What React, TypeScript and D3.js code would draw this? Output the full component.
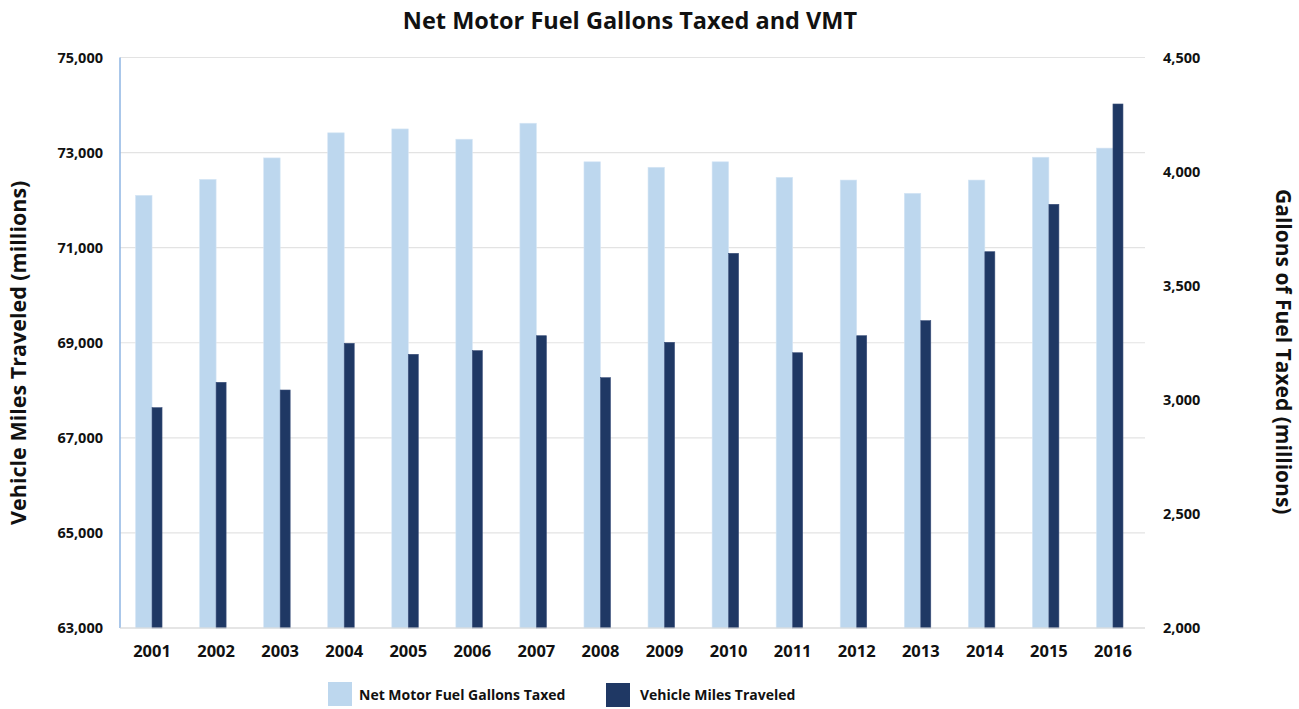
import * as d3 from "d3";
import React from "react";

const years = ["2001", "2002", "2003", "2004", "2005", "2006", "2007", "2008", "2009", "2010", "2011", "2012", "2013", "2014", "2015", "2016"];
const gallonsTaxed = [3896, 3966, 4060, 4170, 4187, 4142, 4212, 4043, 4019, 4043, 3975, 3963, 3905, 3963, 4063, 4103];
const milesTraveled = [67634, 68168, 68006, 68988, 68757, 68833, 69148, 68265, 69009, 70881, 68790, 69148, 69464, 70915, 71912, 74022];
const leftTicks = [63000, 65000, 67000, 69000, 71000, 73000, 75000];
const rightTicks = [2000, 2500, 3000, 3500, 4000, 4500];

const W = 1299;
const H = 709;
const m = { left: 120, right: 1145, top: 57.5, bottom: 628 };
const LIGHT = "#BDD7EE";
const DARK = "#1F3864";
const font = "'Open Sans', 'Noto Sans', sans-serif";

const App: React.FC = () => {
  const x = d3.scaleBand<string>().domain(years).range([m.left, m.right]);
  const yL = d3.scaleLinear().domain([63000, 75000]).range([m.bottom, m.top]);
  const yR = d3.scaleLinear().domain([2000, 4500]).range([m.bottom, m.top]);
  const fmt = d3.format(",");

  return (
    <svg width={W} height={H} style={{ position: "absolute", left: 0, top: 0, fontFamily: font }}>
      <rect width={W} height={H} fill="#fff" />
      <text x={630} y={29} textAnchor="middle" fontSize={23.5} fontWeight={700} fill="#111">
        Net Motor Fuel Gallons Taxed and VMT
      </text>

      {/* gridlines */}
      {leftTicks.map((t) => (
        <line key={t} x1={m.left} x2={m.right} y1={yL(t)} y2={yL(t)} stroke="#e3e3e3" strokeWidth={1.2} />
      ))}

      {/* bars */}
      {years.map((yr, i) => {
        const c = (x(yr) as number) + x.bandwidth() / 2;
        return (
          <g key={yr}>
            <rect x={c - 16.5} width={16.5} y={yR(gallonsTaxed[i])} height={m.bottom - yR(gallonsTaxed[i])} fill={LIGHT} stroke="#d6e6f5" strokeWidth={0.6} />
            <rect x={c} width={10} y={yL(milesTraveled[i])} height={m.bottom - yL(milesTraveled[i])} fill={DARK} stroke="#3a4f7a" strokeWidth={0.6} />
          </g>
        );
      })}

      {/* axes lines */}
      <line x1={m.left} x2={m.left} y1={m.top} y2={m.bottom} stroke="#8EB4E3" strokeWidth={1.5} />
      <line x1={m.left} x2={m.right} y1={m.bottom} y2={m.bottom} stroke="#d9d9d9" strokeWidth={1.2} />

      {/* left tick labels */}
      {leftTicks.map((t) => (
        <text key={t} x={103} y={yL(t) + 5} textAnchor="end" fontSize={14.5} fontWeight={700} fill="#111">
          {fmt(t)}
        </text>
      ))}
      {/* right tick labels */}
      {rightTicks.map((t) => (
        <text key={t} x={1163} y={yR(t) + 5} textAnchor="start" fontSize={14.5} fontWeight={700} fill="#111">
          {fmt(t)}
        </text>
      ))}
      {/* year labels */}
      {years.map((yr) => (
        <text key={yr} x={(x(yr) as number) + x.bandwidth() / 2} y={657} textAnchor="middle" fontSize={16.5} fontWeight={700} fill="#111">
          {yr}
        </text>
      ))}

      {/* axis titles */}
      <text transform={`translate(26, ${(m.top + m.bottom) / 2 + 10}) rotate(-90)`} textAnchor="middle" fontSize={21.5} fontWeight={700} fill="#111">
        Vehicle Miles Traveled (millions)
      </text>
      <text transform={`translate(1276, ${(m.top + m.bottom) / 2 + 9}) rotate(90)`} textAnchor="middle" fontSize={21} fontWeight={700} fill="#111">
        Gallons of Fuel Taxed (millions)
      </text>

      {/* legend */}
      <rect x={328} y={682} width={24} height={24} fill={LIGHT} />
      <text x={359} y={700} fontSize={14} fontWeight={700} fill="#111">Net Motor Fuel Gallons Taxed</text>
      <rect x={606} y={683} width={24} height={24} fill={DARK} />
      <text x={640} y={700} fontSize={14} fontWeight={700} fill="#111">Vehicle Miles Traveled</text>
    </svg>
  );
};

export default App;
